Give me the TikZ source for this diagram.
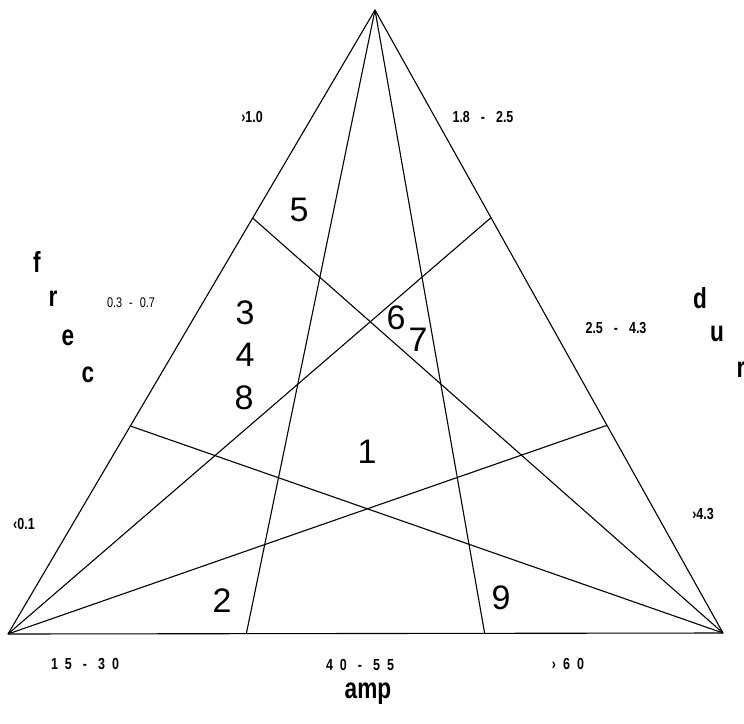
\documentclass[tikz,border=0pt]{standalone}
\usepackage{fontspec}
\setmainfont{Liberation Sans}
\newfontfamily\condfont[FakeStretch=0.78]{Liberation Sans}
\usetikzlibrary{calc}
\newcommand{\gp}{\hspace{7pt}}
\newcommand{\hp}{\hspace{11pt}}
\tikzset{
  edge/.style={line width=1.1pt, black, line join=round},
  small/.style={font=\condfont\bfseries\fontsize{16}{16}\selectfont, inner sep=0pt},
  thin/.style={font=\condfont\fontsize{14}{14}\selectfont, inner sep=0pt},
  axis/.style={font=\condfont\bfseries\fontsize{29}{29}\selectfont, inner sep=0pt},
  region/.style={font=\fontsize{34}{34}\selectfont, inner sep=0pt},
}
\begin{document}
\begin{tikzpicture}[x=1pt,y=-1pt]
\useasboundingbox (0,0) rectangle (744,723);
\coordinate (A) at (375,10);
\coordinate (B) at (8,634);
\coordinate (C) at (723,633);
\coordinate (P1) at ($(A)!1/3!(B)$);
\coordinate (P2) at ($(A)!2/3!(B)$);
\coordinate (Q1) at ($(A)!1/3!(C)$);
\coordinate (Q2) at ($(A)!2/3!(C)$);
\coordinate (R1) at ($(B)!1/3!(C)$);
\coordinate (R2) at ($(B)!2/3!(C)$);
\draw[edge] (A) -- (B) -- (C) -- cycle;
\draw[edge] (A) -- (R1);
\draw[edge] (A) -- (R2);
\draw[edge] (B) -- (Q1);
\draw[edge] (B) -- (Q2);
\draw[edge] (C) -- (P1);
\draw[edge] (C) -- (P2);
% scale labels
\node[small] (l10) at (252,117) {›1.0};
\node[small] (l18) at (483,117) {1.8\hp-\hp2.5};
\node[thin] (l03) at (131,303) {0.3\gp-\gp0.7};
\node[small] (l25) at (616,328) {2.5\hp-\hp4.3};
\node[small] (l01) at (24,524) {‹0.1};
\node[small] (l43) at (703,514) {›4.3};
\node[small] (l15) at (85,664) {1\gp5\hp-\hp3\gp0};
\node[small] (l40) at (360,665) {4\gp0\hp-\hp5\gp5};
\node[small] (l60) at (568,664) {›\gp6\gp0};
% axis names
\node[axis] (f) at (37,262) {f};
\node[axis] (r) at (53,299) {r};
\node[axis] (e) at (68,338) {e};
\node[axis] (c) at (88,375) {c};
\node[axis] (d) at (700,298) {d};
\node[axis] (u) at (717,334) {u};
\node[axis] (r2) at (741,370) {r};
\node[axis] (amp) at (368,694) {amp};
% region numbers
\node[region] (n5) at (299,210) {5};
\node[region] (n3) at (245,313) {3};
\node[region] (n4) at (245,355) {4};
\node[region] (n8) at (244,398) {8};
\node[region] (n6) at (396,318) {6};
\node[region] (n7) at (418,340) {7};
\node[region] (n1) at (367,452) {1};
\node[region] (n2) at (222,601) {2};
\node[region] (n9) at (501,598) {9};
\end{tikzpicture}
\end{document}
